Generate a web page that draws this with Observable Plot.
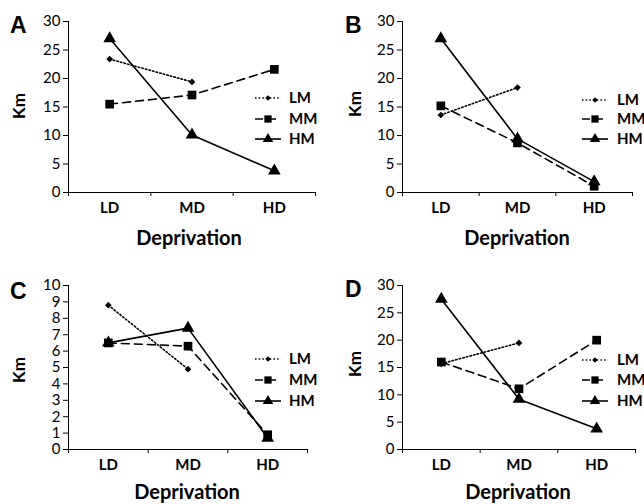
<!DOCTYPE html>
<html><head><meta charset="utf-8">
<script src="https://cdn.jsdelivr.net/npm/d3@7"></script>
<script src="https://cdn.jsdelivr.net/npm/@observablehq/plot@0.6"></script>
<style>
body{margin:0;background:#fff;}
#root{position:relative;width:644px;height:504px;overflow:hidden;font-family:Lato,"Open Sans",sans-serif;color:#000;}
#root > svg, #root > div{position:absolute;}
</style></head><body><div id="root"></div>
<script>
// ---- data ----
const categories = ["LD", "MD", "HD"];
const seriesNames = ["LM", "MM", "HM"];
const panelNames = ["A", "B", "C", "D"];
const yAxisTitle = "Km";
const xAxisTitle = "Deprivation";

const A_LM = [23.4, 19.4];
const A_MM = [15.5, 17.1, 21.6];
const A_HM = [27.0, 10.1, 3.8];

const B_LM = [13.6, 18.4];
const B_MM = [15.2, 8.7, 1.1];
const B_HM = [27.0, 9.4, 1.9];

const C_LM = [8.8, 4.9];
const C_MM = [6.5, 6.3, 0.9];
const C_HM = [6.5, 7.4, 0.7];

const D_LM = [15.7, 19.5];
const D_MM = [16.0, 11.1, 20.0];
const D_HM = [27.5, 9.2, 3.8];

const yMaxes = [30, 30, 10, 30];
const yTickSteps = [5, 5, 1, 5];

// ---- build table ----
const panelSeries = [[A_LM, A_MM, A_HM], [B_LM, B_MM, B_HM], [C_LM, C_MM, C_HM], [D_LM, D_MM, D_HM]];
const table = [];
panelSeries.forEach((ser, p) => ser.forEach((vals, s) => vals.forEach((v, i) =>
  table.push({panel: panelNames[p], series: seriesNames[s], i, value: v}))));

// ---- styles / layout ----
const seriesStyle = {
  LM: {dash: "1.5,2.2", symbol: "diamond2", r: 3.0},
  MM: {dash: "8,5", symbol: "square", r: 4.9},
  HM: {dash: null, symbol: "triangle", r: 4.7}
};
const layout = [
  {left: 0,   top: 0,   ml: 68, mr: 7,  mt: 21, mb: 60, letter: [10, 33],  km: [25, 106],  dep: [189, 245], leg: [255, 289, [98, 119, 139]]},
  {left: 322, top: 0,   ml: 80, mr: 12, mt: 21, mb: 60, letter: [345, 33], km: [361, 104], dep: [517, 245], leg: [582, 617, [100, 119, 139]]},
  {left: 0,   top: 252, ml: 68, mr: 15, mt: 33, mb: 55, letter: [10, 299], km: [25, 370],  dep: [187, 499], leg: [255, 289, [359, 380, 401]]},
  {left: 322, top: 252, ml: 80, mr: 9,  mt: 33, mb: 55, letter: [345, 297],km: [361, 364], dep: [518, 499], leg: [582, 617, [360, 380, 401]]}
];
const FONT = "Lato, 'Open Sans', sans-serif";
const root = document.getElementById("root");

panelNames.forEach((name, p) => {
  const L = layout[p];
  const rows = table.filter(d => d.panel === name);
  const yMax = yMaxes[p], step = yTickSteps[p];
  const marks = [
    Plot.axisY({ticks: d3.range(0, yMax + step / 2, step), tickSize: 5, tickPadding: 3, fontSize: 15, label: null, tickFormat: d => String(d), stroke: "#000", color: "#000"}),
    Plot.axisX({ticks: [-0.5, 0.5, 1.5, 2.5], tickSize: 4, tickFormat: () => "", label: null, stroke: "#000"}),
    Plot.axisX({ticks: [0, 1, 2], tickSize: 0, tickPadding: 10, fontSize: 15, fontWeight: "bold", tickFormat: j => categories[j], label: null}),
    Plot.ruleX([-0.5], {stroke: "#000", strokeWidth: 1}),
    Plot.ruleY([0], {stroke: "#000", strokeWidth: 1})
  ];
  seriesNames.forEach(s => {
    const st = seriesStyle[s];
    const sr = rows.filter(d => d.series === s);
    marks.push(Plot.line(sr, {x: "i", y: "value", stroke: "#000", strokeWidth: 1.6, strokeDasharray: st.dash}));
  });
  seriesNames.forEach(s => {
    const st = seriesStyle[s];
    const sr = rows.filter(d => d.series === s);
    marks.push(Plot.dot(sr, {x: "i", y: "value", symbol: st.symbol, fill: "#000", stroke: "none", r: st.r}));
  });
  const chart = Plot.plot({
    width: 322, height: 252,
    marginLeft: L.ml, marginRight: L.mr, marginTop: L.mt, marginBottom: L.mb,
    style: {fontFamily: FONT, color: "#000", background: "transparent", overflow: "visible"},
    x: {type: "linear", domain: [-0.5, 2.5], axis: null},
    y: {type: "linear", domain: [0, yMax], axis: null},
    marks
  });
  chart.style.left = L.left + "px";
  chart.style.top = L.top + "px";
  root.appendChild(chart);
});

// ---- overlay texts and legends ----
const ov = d3.select(root).append("svg").attr("width", 644).attr("height", 504)
  .style("left", "0px").style("top", "0px").style("pointer-events", "none")
  .style("font-family", FONT);

panelNames.forEach((name, p) => {
  const L = layout[p];
  ov.append("text").attr("x", L.letter[0]).attr("y", L.letter[1])
    .attr("font-family", "'Liberation Sans', Arial, sans-serif")
    .attr("font-size", 23).attr("font-weight", "bold").text(name);
  ov.append("text").attr("transform", `translate(${L.km[0]},${L.km[1]}) rotate(-90)`)
    .attr("text-anchor", "middle").attr("font-size", 17).attr("font-weight", "bold").text(yAxisTitle);
  ov.append("text").attr("x", L.dep[0]).attr("y", L.dep[1]).attr("text-anchor", "middle")
    .attr("font-size", 20).attr("font-weight", "bold").text(xAxisTitle);
  const [x0, tx, ys] = L.leg;
  seriesNames.forEach((s, k) => {
    const st = seriesStyle[s];
    const y = ys[k];
    ov.append("line").attr("x1", x0).attr("x2", x0 + 26).attr("y1", y).attr("y2", y)
      .attr("stroke", "#000").attr("stroke-width", 1.6).attr("stroke-dasharray", st.dash);
    const sym = d3.symbol().type({diamond2: d3.symbolDiamond2, square: d3.symbolSquare, triangle: d3.symbolTriangle}[st.symbol])
      .size(Math.PI * st.r * st.r * 0.7);
    ov.append("path").attr("d", sym()).attr("transform", `translate(${x0 + 13},${y})`).attr("fill", "#000");
    ov.append("text").attr("x", tx).attr("y", y).attr("dy", "0.36em")
      .attr("font-size", 15).attr("font-weight", "bold").text(s);
  });
});
</script>
</body></html>
